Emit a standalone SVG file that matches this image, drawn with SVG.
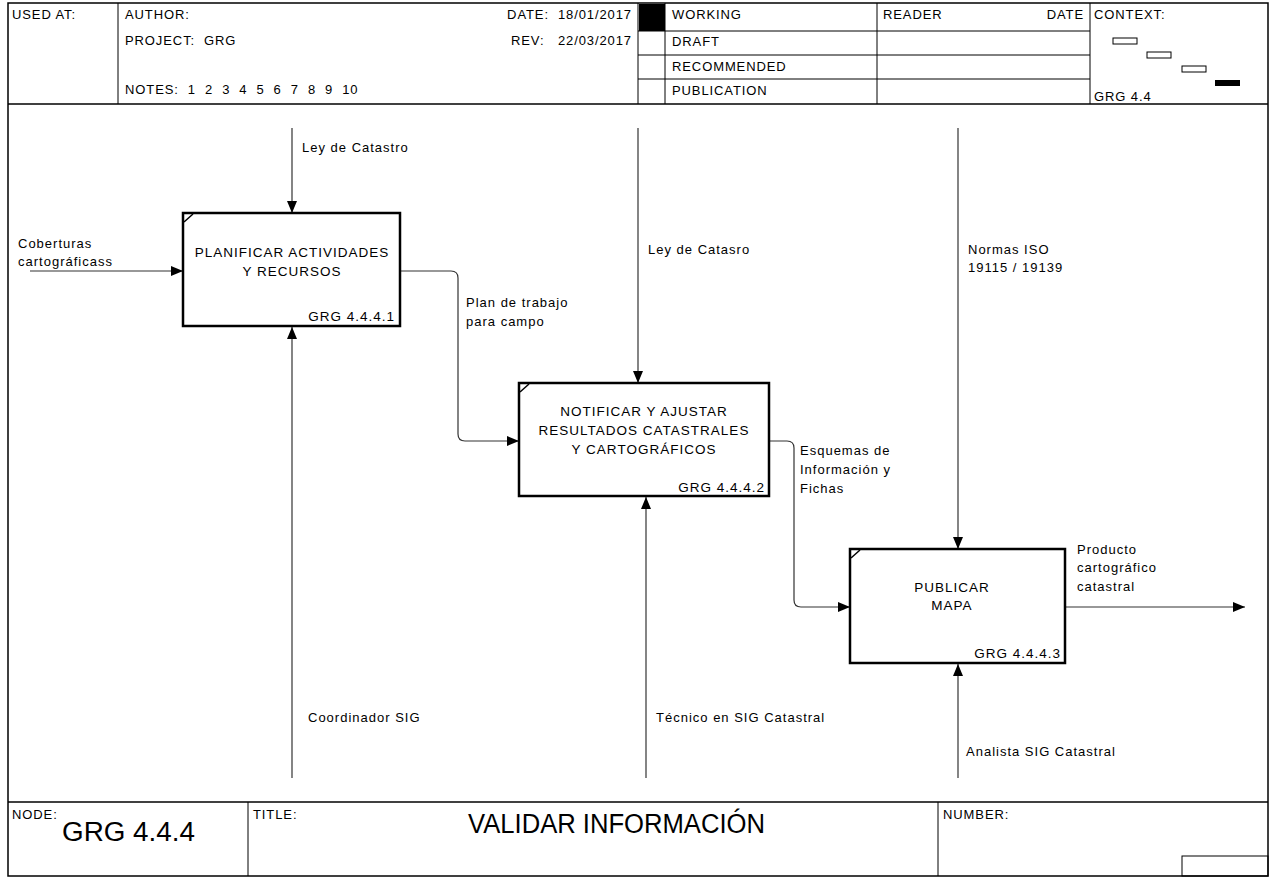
<svg xmlns="http://www.w3.org/2000/svg" width="1270" height="878" viewBox="0 0 1270 878">
<style>
text{font-family:"Liberation Sans",Arial,sans-serif;fill:#000;white-space:pre}
.h{font-size:13px;letter-spacing:0.9px}
.l{font-size:13px;letter-spacing:1px}
.b{font-size:13.5px;letter-spacing:1px}
.frame{fill:none;stroke:#000;stroke-width:1.5}
.thin{fill:none;stroke:#000;stroke-width:1}
.box{fill:#fff;stroke:#000;stroke-width:2.5}
.c{fill:none;stroke:#333;stroke-width:1.2}
</style>
<defs>
<marker id="ah" markerWidth="12" markerHeight="10" refX="12" refY="5" orient="auto" markerUnits="userSpaceOnUse">
<path d="M0,0 L12,5 L0,10 Z" fill="#000"/>
</marker>
</defs>
<rect x="0" y="0" width="1270" height="878" fill="#fff"/>
<g id="frame">
<rect class="frame" x="8" y="3" width="1260" height="873"/>
<line class="frame" x1="8" y1="104" x2="1268" y2="104"/>
<line class="frame" x1="8" y1="802" x2="1268" y2="802"/>
<line class="thin" x1="118" y1="3" x2="118" y2="104"/>
<line class="thin" x1="638" y1="3" x2="638" y2="104"/>
<line class="thin" x1="665" y1="3" x2="665" y2="104"/>
<line class="thin" x1="877" y1="3" x2="877" y2="104"/>
<line class="thin" x1="1090" y1="3" x2="1090" y2="104"/>
<line class="thin" x1="638" y1="31" x2="1090" y2="31"/>
<line class="thin" x1="638" y1="55" x2="1090" y2="55"/>
<line class="thin" x1="638" y1="79" x2="1090" y2="79"/>
<rect x="639" y="4" width="26" height="27" fill="#000"/>
<text class="h" x="12" y="19">USED AT:</text>
<text class="h" x="125" y="19">AUTHOR:</text>
<text class="h" x="125" y="45">PROJECT:  GRG</text>
<text class="h" x="125" y="94">NOTES:  1  2  3  4  5  6  7  8  9  10</text>
<text class="h" x="632" y="19" text-anchor="end">DATE:  18/01/2017</text>
<text class="h" x="632" y="45" text-anchor="end">REV:   22/03/2017</text>
<text class="h" x="672" y="19">WORKING</text>
<text class="h" x="672" y="46">DRAFT</text>
<text class="h" x="672" y="71">RECOMMENDED</text>
<text class="h" x="672" y="95">PUBLICATION</text>
<text class="h" x="883" y="19">READER</text>
<text class="h" x="1084" y="19" text-anchor="end">DATE</text>
<text class="h" x="1094" y="19">CONTEXT:</text>
<text class="h" x="1094" y="101">GRG 4.4</text>
<rect x="1113" y="38" width="24" height="6" fill="#fff" stroke="#000" stroke-width="1"/>
<rect x="1147" y="52" width="24" height="6" fill="#fff" stroke="#000" stroke-width="1"/>
<rect x="1182" y="66" width="24" height="6" fill="#fff" stroke="#000" stroke-width="1"/>
<rect x="1215" y="80" width="25" height="6" fill="#000"/>
<line class="thin" x1="248" y1="802" x2="248" y2="876"/>
<line class="thin" x1="938" y1="802" x2="938" y2="876"/>
<rect class="thin" x="1182" y="856" width="86" height="20"/>
<text class="h" x="12" y="819">NODE:</text>
<text class="h" x="253" y="819">TITLE:</text>
<text class="h" x="943" y="819">NUMBER:</text>
<text x="62" y="841" font-size="27" textLength="133" lengthAdjust="spacingAndGlyphs">GRG 4.4.4</text>
<text x="468" y="833" font-size="27" textLength="297" lengthAdjust="spacingAndGlyphs">VALIDAR INFORMACIÓN</text>
</g>
<g id="connectors">
<line class="c" x1="292" y1="128" x2="292" y2="213" marker-end="url(#ah)"/>
<line class="c" x1="30" y1="271" x2="183" y2="271" marker-end="url(#ah)"/>
<line class="c" x1="292" y1="778" x2="292" y2="327" marker-end="url(#ah)"/>
<path class="c" d="M400,271 H451 Q458,271 458,278 V434 Q458,441 465,441 H519" marker-end="url(#ah)"/>
<line class="c" x1="638" y1="128" x2="638" y2="383" marker-end="url(#ah)"/>
<line class="c" x1="646" y1="778" x2="646" y2="497" marker-end="url(#ah)"/>
<path class="c" d="M769,441 H787 Q794,441 794,448 V600 Q794,607 801,607 H850" marker-end="url(#ah)"/>
<line class="c" x1="958" y1="128" x2="958" y2="549" marker-end="url(#ah)"/>
<line class="c" x1="958" y1="778" x2="958" y2="664" marker-end="url(#ah)"/>
<line class="c" x1="1065" y1="607" x2="1245" y2="607" marker-end="url(#ah)"/>
<text class="l" x="302" y="152">Ley de Catastro</text>
<text class="l" x="18" y="248">Coberturas</text>
<text class="l" x="18" y="266">cartográficass</text>
<text class="l" x="308" y="722">Coordinador SIG</text>
<text class="l" x="466" y="307">Plan de trabajo</text>
<text class="l" x="466" y="326">para campo</text>
<text class="l" x="648" y="254">Ley de Catasro</text>
<text class="l" x="656" y="722">Técnico en SIG Catastral</text>
<text class="l" x="800" y="455">Esquemas de</text>
<text class="l" x="800" y="474">Información y</text>
<text class="l" x="800" y="493">Fichas</text>
<text class="l" x="968" y="254">Normas ISO</text>
<text class="l" x="968" y="272">19115 / 19139</text>
<text class="l" x="966" y="756">Analista SIG Catastral</text>
<text class="l" x="1077" y="554">Producto</text>
<text class="l" x="1077" y="572">cartográfico</text>
<text class="l" x="1077" y="591">catastral</text>
</g>
<g id="node1">
<rect class="box" x="183" y="213" width="217" height="113"/>
<line x1="184" y1="222" x2="193" y2="214" stroke="#000" stroke-width="1.5"/>
<text class="b" x="292" y="257" text-anchor="middle">PLANIFICAR ACTIVIDADES</text>
<text class="b" x="292" y="276" text-anchor="middle">Y RECURSOS</text>
<text class="b" x="395" y="321" text-anchor="end">GRG 4.4.4.1</text>
</g>
<g id="node2">
<rect class="box" x="519" y="383" width="250" height="113"/>
<line x1="520" y1="392" x2="529" y2="384" stroke="#000" stroke-width="1.5"/>
<text class="b" x="644" y="416" text-anchor="middle">NOTIFICAR Y AJUSTAR</text>
<text class="b" x="644" y="435" text-anchor="middle">RESULTADOS CATASTRALES</text>
<text class="b" x="644" y="454" text-anchor="middle">Y CARTOGRÁFICOS</text>
<text class="b" x="765" y="492" text-anchor="end">GRG 4.4.4.2</text>
</g>
<g id="node3">
<rect class="box" x="850" y="549" width="215" height="114"/>
<line x1="851" y1="558" x2="860" y2="550" stroke="#000" stroke-width="1.5"/>
<text class="b" x="952" y="592" text-anchor="middle">PUBLICAR</text>
<text class="b" x="952" y="610" text-anchor="middle">MAPA</text>
<text class="b" x="1061" y="658" text-anchor="end">GRG 4.4.4.3</text>
</g>
</svg>
